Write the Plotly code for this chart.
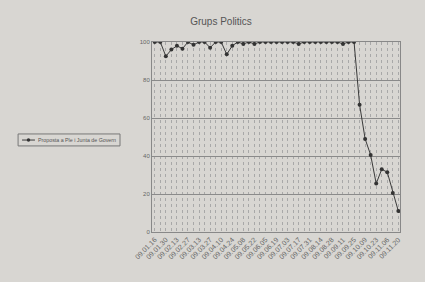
import plotly.graph_objects as go

dates = ["09.01.16","09.01.23","09.01.30","09.02.06","09.02.13","09.02.20","09.02.27",
         "09.03.06","09.03.13","09.03.20","09.03.27","09.04.03","09.04.10","09.04.17",
         "09.04.24","09.05.01","09.05.08","09.05.15","09.05.22","09.05.29","09.06.05",
         "09.06.12","09.06.19","09.06.26","09.07.03","09.07.10","09.07.17","09.07.24",
         "09.07.31","09.08.07","09.08.14","09.08.21","09.08.28","09.09.04","09.09.11",
         "09.09.18","09.09.25","09.10.02","09.10.09","09.10.16","09.10.23","09.10.30",
         "09.11.06","09.11.13","09.11.20"]
proposta = [100, 100, 92.5, 96, 98, 96.5, 100, 98.5, 100, 100, 97, 100, 100, 93.5,
            98, 100, 99, 100, 99, 100, 100, 100, 100, 100, 100, 100, 99, 100,
            100, 100, 100, 100, 100, 100, 99, 100, 100, 67, 49, 40.5, 25.5, 33,
            31.5, 20.5, 11]
series_name = "Proposta a Ple i Junta de Govern"
title = "Grups Politics"

fig = go.Figure()
fig.add_trace(go.Scatter(
    x=dates, y=proposta, name=series_name, mode="lines+markers",
    line=dict(color="#3a3a3a", width=1),
    marker=dict(color="#333333", size=4, symbol="circle"),
    showlegend=False,
))

# legend box drawn by hand (compact, like the printed original)
ly = 0.484
fig.add_shape(type="rect", xref="paper", yref="paper", x0=-0.540, x1=-0.129,
              y0=0.453, y1=0.516, line=dict(color="#777777", width=1))
fig.add_shape(type="line", xref="paper", yref="paper", x0=-0.524, x1=-0.472,
              y0=ly, y1=ly, line=dict(color="#3a3a3a", width=1))
fig.add_shape(type="circle", xref="paper", yref="paper", x0=-0.505, x1=-0.491,
              y0=ly - 0.009, y1=ly + 0.009, fillcolor="#333333",
              line=dict(color="#333333", width=0))
fig.add_annotation(text=series_name, xref="paper", yref="paper", x=-0.466, y=ly,
                   xanchor="left", yanchor="middle", showarrow=False,
                   font=dict(size=5.3, color="#555555"))

fig.update_layout(
    width=425, height=282,
    margin=dict(l=152, r=25, t=42, b=50),
    paper_bgcolor="#d8d6d2",
    plot_bgcolor="#d8d6d2",
    font=dict(family="Liberation Sans, Arial, sans-serif", color="#555555", size=6),
    title=dict(text=title, x=0.52, xanchor="center", y=0.925, yanchor="middle",
               font=dict(size=10, color="#555555")),
    showlegend=False,
)
fig.update_xaxes(
    type="category", range=[-0.5, 44.3],
    tickmode="array", tickvals=dates,
    ticktext=[d if i % 2 == 0 else "" for i, d in enumerate(dates)],
    tickangle=-45, tickfont=dict(size=7, color="#666666"),
    showgrid=True, gridcolor="#a8a8a8", griddash="dot", gridwidth=0.6,
    showline=True, linecolor="#888888", mirror=True, linewidth=1,
    ticks="",
)
fig.update_yaxes(
    range=[0, 100], tickvals=[0, 20, 40, 60, 80, 100],
    tickfont=dict(size=6, color="#666666"),
    showgrid=True, gridcolor="#8a8a8a", gridwidth=0.8,
    showline=True, linecolor="#888888", mirror=True, linewidth=1,
    zeroline=False, ticks="",
)

fig.write_html("out.html")
